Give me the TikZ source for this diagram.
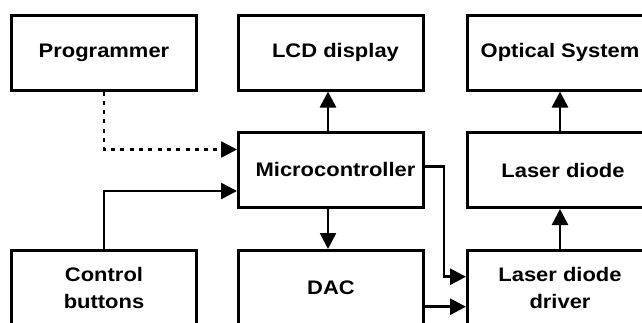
\documentclass[tikz,border=0pt]{standalone}
\usepackage{fontspec}
\setmainfont{Liberation Sans}[FakeStretch=1.12]
\usetikzlibrary{arrows.meta}
\begin{document}
\begin{tikzpicture}[x=1pt,y=-1pt,
  box/.style={draw, line width=3pt, minimum width=185pt, minimum height=75pt,
    inner sep=0pt, align=center, font=\bfseries\fontsize{19.6}{26.7}\selectfont},
  conn/.style={line width=2.6pt, -{Triangle[length=16pt,width=16pt]}},
  dotconn/.style={conn, dash pattern=on 4pt off 5.3pt}
]
\useasboundingbox (0,0) rectangle (642,322);
\node[box] (prog) at (104,52.5) {Programmer};
\node[box] (lcd) at (331,52.5) {\hspace*{9pt}LCD display};
\node[box] (opt) at (560,52.5) {Optical System};
\node[box] (mc) at (331,169.5) {\hspace*{9pt}Microcontroller};
\node[box] (ld) at (560,170) {\hspace*{6pt}Laser diode};
\node[box] (cb) at (104,288) {Control\\buttons};
\node[box] (dac) at (331,288) {DAC};
\node[box] (drv) at (560,288) {Laser diode\\driver};

\draw[dotconn] (prog.south) |- ([yshift=20pt]mc.west);
\draw[conn] (cb.north) |- ([yshift=-21.5pt]mc.west);
\draw[conn] ([xshift=-3pt]mc.north) -- ([xshift=-3pt]lcd.south);
\draw[conn] ([xshift=-3pt]mc.south) -- ([xshift=-3pt]dac.north);
\draw[conn] ([yshift=2.8pt]mc.east) -- ++(19,0) |- ([yshift=11.3pt]drv.west);
\draw[conn] ([yshift=-18.7pt]dac.east) -- ([yshift=-18.7pt]drv.west);
\draw[conn] (drv.north) -- (ld.south);
\draw[conn] (ld.north) -- (opt.south);
\end{tikzpicture}
\end{document}
